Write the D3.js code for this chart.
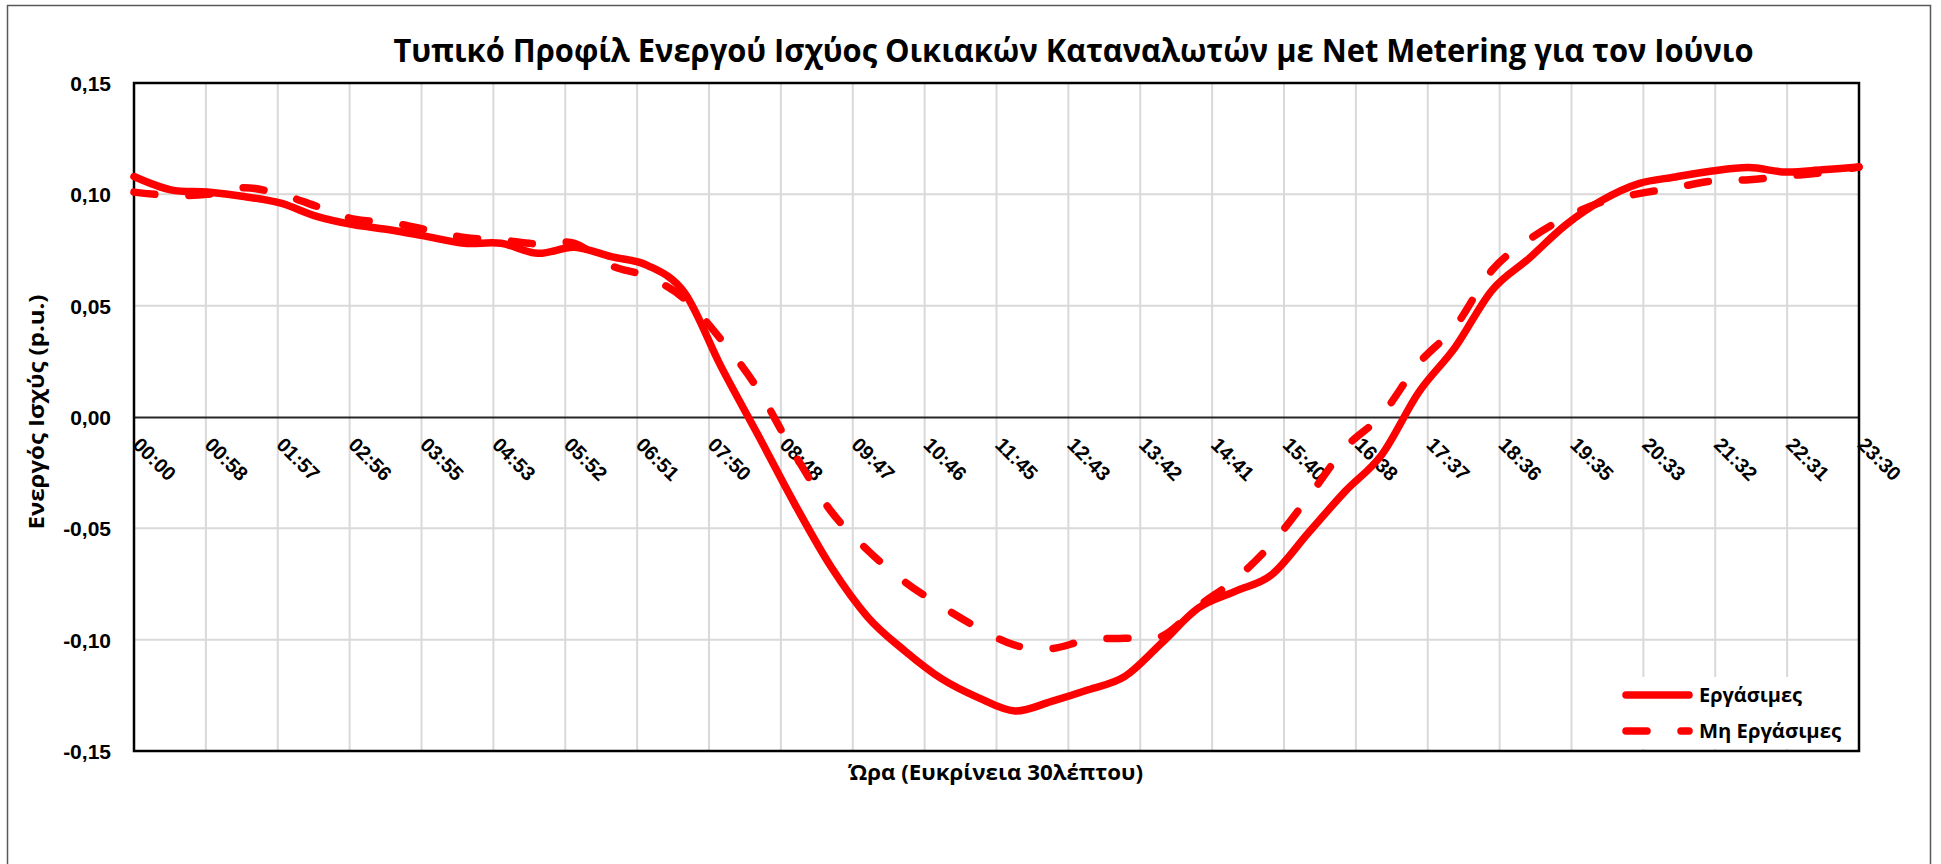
<!DOCTYPE html>
<html>
<head>
<meta charset="utf-8">
<script src="https://cdn.jsdelivr.net/npm/d3@7"></script>
<style>
  body { margin: 0; background: #fff; }
  svg { display: block; font-family: 'Open Sans', 'Noto Sans', sans-serif; }
</style>
</head>
<body>
<svg id="chart" width="1941" height="864"></svg>
<script>
//
// Data
//

var titleText = 'Τυπικό Προφίλ Ενεργού Ισχύος Οικιακών Καταναλωτών με Net Metering για τον Ιούνιο'
var yTitle = 'Ενεργός Ισχύς (p.u.)'
var xTitle = 'Ώρα (Ευκρίνεια 30λέπτου)'
var seriesNames = ['Εργάσιμες', 'Μη Εργάσιμες']

// half hour samples
var times = ['00:00', '00:30', '01:00', '01:30', '02:00', '02:30', '03:00', '03:30',
  '04:00', '04:30', '05:00', '05:30', '06:00', '06:30', '07:00', '07:30',
  '08:00', '08:30', '09:00', '09:30', '10:00', '10:30', '11:00', '11:30',
  '12:00', '12:30', '13:00', '13:30', '14:00', '14:30', '15:00', '15:30',
  '16:00', '16:30', '17:00', '17:30', '18:00', '18:30', '19:00', '19:30',
  '20:00', '20:30', '21:00', '21:30', '22:00', '22:30', '23:00', '23:30']

// working days
var workdays = [0.108, 0.102, 0.101, 0.099, 0.096, 0.090, 0.0863, 0.084,
  0.081, 0.078, 0.078, 0.0735, 0.0762, 0.072, 0.068, 0.0558,
  0.0225, -0.008, -0.039, -0.0675, -0.090, -0.105, -0.1175, -0.126,
  -0.132, -0.1277, -0.1225, -0.1165, -0.1015, -0.0858, -0.0783, -0.0708,
  -0.052, -0.0334, -0.0169, 0.011, 0.0314, 0.0569, 0.0711, 0.0861,
  0.0973, 0.1048, 0.1078, 0.1105, 0.112, 0.110, 0.111, 0.1123]

// non working days
var holidays = [0.101, 0.0995, 0.100, 0.103, 0.100, 0.0945, 0.0888, 0.0873,
  0.084, 0.0806, 0.0795, 0.0777, 0.078, 0.068, 0.063, 0.053,
  0.0347, 0.0125, -0.0167, -0.0425, -0.060, -0.074, -0.085, -0.0947,
  -0.1025, -0.104, -0.100, -0.0994, -0.0985, -0.085, -0.073, -0.0569,
  -0.036, -0.0139, 0.001, 0.024, 0.0407, 0.0659, 0.0796, 0.0895,
  0.0966, 0.1003, 0.103, 0.106, 0.1066, 0.1082, 0.1097, 0.1123]

var xTickLabels = ['00:00', '00:58', '01:57', '02:56', '03:55', '04:53', '05:52', '06:51',
  '07:50', '08:48', '09:47', '10:46', '11:45', '12:43', '13:42', '14:41',
  '15:40', '16:38', '17:37', '18:36', '19:35', '20:33', '21:32', '22:31', '23:30']
var yTicks = [-0.15, -0.10, -0.05, 0, 0.05, 0.10, 0.15]

//
// Configuration
//

var plot = { left: 134, right: 1859, top: 83, bottom: 751 }
var colorLine = '#ff0000'
var colorGrid = '#d9d9d9'
var lineWidth = 7.5
var dash = '21,34'

var locale = d3.formatLocale({ decimal: ',', thousands: '.', grouping: [3], currency: ['', '€'], minus: '-' })
var fmt = locale.format('.2f')

function toHours(s) {
  var p = s.split(':')
  return +p[0] + p[1] / 60
}

// squeeze/stretch text to the width seen in the reference (Calibri is narrow)
function fitText(sel, w) {
  sel.attr('textLength', w).attr('lengthAdjust', 'spacingAndGlyphs')
}

var svg = d3.select('#chart')

var x = d3.scaleLinear().domain([0, toHours('23:30')]).range([plot.left, plot.right])
var y = d3.scaleLinear().domain([-0.15, 0.15]).range([plot.bottom, plot.top])
var xTickValues = xTickLabels.map(function(d, i) { return toHours('23:30') * i / (xTickLabels.length - 1) })

//
// Frame
//

svg.append('rect')
  .attr('x', 7.5).attr('y', 5.5).attr('width', 1923).attr('height', 900)
  .attr('fill', '#fff').attr('stroke', '#595959').attr('stroke-width', 1.5)

svg.append('text')
  .attr('x', 1073.5).attr('y', 62)
  .attr('text-anchor', 'middle')
  .attr('font-size', 32).attr('font-weight', 'bold')
  .text(titleText)
  .call(fitText, 1360)

//
// Grid
//

var grid = svg.append('g')
grid.selectAll('.vg')
  .data(xTickValues.slice(1, -1))
  .enter().append('line')
  .attr('x1', x).attr('x2', x)
  .attr('y1', plot.top).attr('y2', plot.bottom)
  .attr('stroke', colorGrid).attr('stroke-width', 2)
grid.selectAll('.hg')
  .data(yTicks.filter(function(d) { return d !== 0 && Math.abs(d) < 0.15 }))
  .enter().append('line')
  .attr('x1', plot.left).attr('x2', plot.right)
  .attr('y1', y).attr('y2', y)
  .attr('stroke', colorGrid).attr('stroke-width', 2)

// legend box hides the grid behind it
var legend = svg.append('g')
legend.append('rect')
  .attr('x', 1605).attr('y', 677).attr('width', 252).attr('height', 72)
  .attr('fill', '#fff')

//
// Axes
//

var yAxis = d3.axisLeft(y).tickValues(yTicks).tickFormat(fmt).tickSize(0).tickPadding(0)
svg.append('g')
  .attr('transform', 'translate(111,0)')
  .call(yAxis)
  .call(function(g) {
    g.select('.domain').remove()
    g.selectAll('text')
      .attr('font-family', null)
      .attr('font-size', 21).attr('font-weight', 'bold').attr('fill', '#000')
      .attr('dy', '0.36em')
  })

// horizontal axis crosses at zero
var xAxis = d3.axisBottom(x).tickValues(xTickValues)
  .tickFormat(function(d, i) { return xTickLabels[i] }).tickSize(0)
svg.append('g')
  .attr('transform', 'translate(0,' + y(0) + ')')
  .call(xAxis)
  .call(function(g) {
    g.select('.domain').attr('stroke', '#262626').attr('stroke-width', 2)
    g.selectAll('text')
      .attr('font-family', null)
      .attr('font-size', 20).attr('font-weight', 'bold').attr('fill', '#000')
      .attr('text-anchor', 'start')
      .attr('y', 0).attr('dy', 0)
      .attr('transform', 'translate(-3,29) rotate(45)')
  })

svg.append('text')
  .attr('transform', 'translate(44,412) rotate(-90)')
  .attr('text-anchor', 'middle')
  .attr('font-size', 21).attr('font-weight', 'bold')
  .text(yTitle)
  .call(fitText, 235)

svg.append('text')
  .attr('x', 995.5).attr('y', 780)
  .attr('text-anchor', 'middle')
  .attr('font-size', 21).attr('font-weight', 'bold')
  .text(xTitle)
  .call(fitText, 295)

// plot border
svg.append('rect')
  .attr('x', plot.left).attr('y', plot.top)
  .attr('width', plot.right - plot.left).attr('height', plot.bottom - plot.top)
  .attr('fill', 'none').attr('stroke', '#000').attr('stroke-width', 2.5)

//
// Lines
//

var line = d3.line()
  .x(function(d) { return x(toHours(d[0])) })
  .y(function(d) { return y(d[1]) })
  .curve(d3.curveCardinal.tension(0))

var series = [
  { name: seriesNames[0], values: d3.zip(times, workdays), dash: null },
  { name: seriesNames[1], values: d3.zip(times, holidays), dash: dash }
]

svg.append('g').selectAll('path')
  .data(series)
  .enter().append('path')
  .attr('d', function(d) { return line(d.values) })
  .attr('fill', 'none')
  .attr('stroke', colorLine)
  .attr('stroke-width', lineWidth)
  .attr('stroke-linecap', 'round')
  .attr('stroke-linejoin', 'round')
  .attr('stroke-dasharray', function(d) { return d.dash })

//
// Legend
//

var items = legend.selectAll('.item')
  .data(series)
  .enter().append('g')
  .attr('transform', function(d, i) { return 'translate(0,' + (695 + i * 36) + ')' })
items.append('line')
  .attr('x1', 1626).attr('x2', 1689)
  .attr('stroke', colorLine)
  .attr('stroke-width', lineWidth)
  .attr('stroke-linecap', 'round')
  .attr('stroke-dasharray', function(d) { return d.dash })
items.append('text')
  .attr('x', 1699).attr('y', 7)
  .attr('font-size', 20).attr('font-weight', 'bold')
  .text(function(d) { return d.name })
  .each(function(d, i) { d3.select(this).call(fitText, i ? 142 : 103) })
</script>
</body>
</html>
